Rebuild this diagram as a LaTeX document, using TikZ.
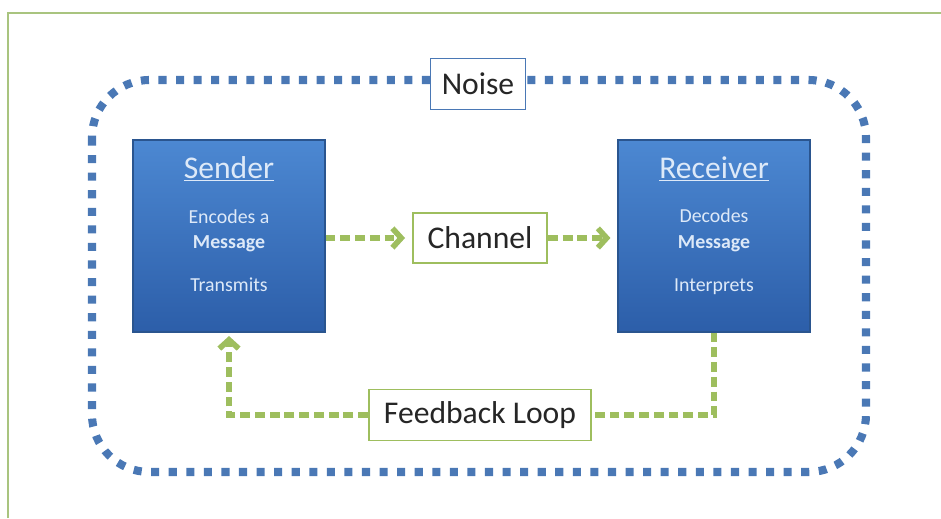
\documentclass[tikz,border=0pt]{standalone}
\usepackage{fontspec}
\setmainfont{Carlito}
\usepackage{tikz}
\usepackage{xcolor}
\usetikzlibrary{positioning,
	calc,
	arrows.meta}
\definecolor{boxtop}{HTML}{4C88D2}
\definecolor{boxbot}{HTML}{2C5EA9}
\definecolor{boxrim}{HTML}{2A558F}
\definecolor{boxtxt}{HTML}{DDE9F8}
\definecolor{noiseblue}{HTML}{4A78B5}
\definecolor{loopgreen}{HTML}{9EBE5E}
\definecolor{framegreen}{HTML}{A9C47F}
\definecolor{ink}{HTML}{262626}
\tikzstyle{party}=[draw=boxrim, line width=0.6pt, top color=boxtop, bottom color=boxbot,
		minimum width=3.84cm, minimum height=3.84cm, inner sep=0]
\tikzstyle{title}=[text=boxtxt, anchor=base, font=\fontsize{18}{18}\selectfont, inner sep=0]
\tikzstyle{line}=[text=boxtxt, anchor=base, font=\fontsize{11.3}{12}\selectfont, inner sep=0]
\tikzstyle{tag}=[draw=loopgreen, line width=1.1pt, fill=white, text=ink,
		font=\fontsize{18}{18}\selectfont, inner sep=0]
\tikzstyle{noisy}=[draw=noiseblue, line width=4.6pt, dash pattern=on 4.6pt off 5.4pt]
\tikzstyle{flow}=[draw=loopgreen, line width=3.2pt, dash pattern=on 5.6pt off 2.8pt]
\tikzstyle{tip}=[-{Straight Barb[length=5pt, width=11pt]}]

\begin{document}
\begin{tikzpicture}[x=0.02cm, y=-0.02cm]
	\useasboundingbox (0,0) rectangle (941,518);
	% outer frame (cut at right and bottom)
	\draw[framegreen, line width=1.4pt] (8,518) -- (8,13) -- (941,13);
	% noise boundary
	\draw[noisy, rounded corners=1.15cm] (92,80) rectangle (866,472);

	\node[party] (sender) at (229,236) {};
	\node[party] (receiver) at (714,236) {};

	\node[title] (sendt) at (229,178) {\underline{Sender}};
	\node[line] (send1) at (229,223) {Encodes a};
	\node[line] (send2) at (229,248) {\bfseries Message};
	\node[line] (send3) at (229,291) {Transmits};

	\node[title] (recvt) at (714,178) {\underline{Receiver}};
	\node[line] (recv1) at (714,222) {Decodes};
	\node[line] (recv2) at (714,248) {\bfseries Message};
	\node[line] (recv3) at (714,291) {Interprets};

	\node[tag, draw=noiseblue, minimum width=1.9cm, minimum height=1.02cm] (noise) at (478,84) {Noise};
	\node[tag, minimum width=2.68cm, minimum height=1.0cm] (channel) at (480,238) {Channel};
	\node[tag, minimum width=4.44cm, minimum height=1.02cm] (feedback) at (480,415) {Feedback Loop};

	% connectors
	\draw[flow, tip, shorten >=4pt] (sender.east |- channel) -- (channel.west);
	\draw[flow, tip, shorten >=4pt] (channel.east) -- (receiver.west |- channel);
	\draw[flow] (receiver.south) |- (feedback.east);
	\draw[flow, tip, shorten >=2pt] (feedback.west) -| (sender.south);
\end{tikzpicture}
\end{document}
